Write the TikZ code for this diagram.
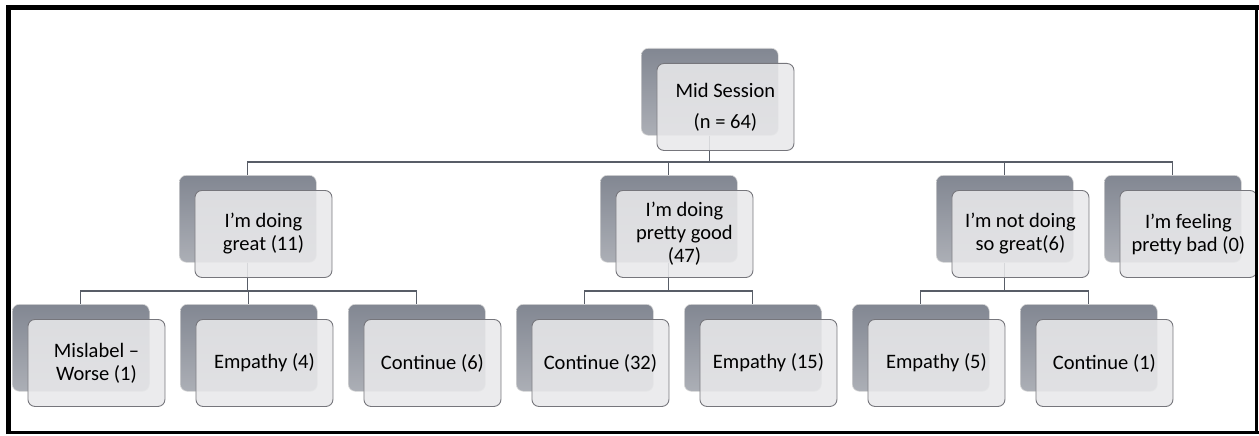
\documentclass[tikz,border=0pt]{standalone}
\usepackage{fontspec}
\setmainfont{Carlito}
\definecolor{boxtop}{RGB}{130,135,146}
\definecolor{boxbot}{RGB}{172,175,182}
\definecolor{frontfill}{RGB}{232,232,234}
\definecolor{edgegray}{RGB}{118,118,124}
\definecolor{linkgray}{RGB}{88,93,103}
\begin{document}
\begin{tikzpicture}[x=1pt,y=-1pt,
  backbox/.style={draw=white!70!gray, line width=0.6pt, rounded corners=7pt,
    top color=boxtop, bottom color=boxbot,
    minimum width=137pt, minimum height=87pt, inner sep=0pt, anchor=north west},
  frontbox/.style={draw=edgegray, line width=0.9pt, rounded corners=7pt,
    fill=frontfill, fill opacity=0.88, text opacity=1,
    minimum width=137pt, minimum height=87pt, inner sep=0pt, anchor=north west,
    align=center, font=\fontsize{20.5}{23}\selectfont},
  link/.style={draw=linkgray, line width=1.3pt}]
\useasboundingbox (0,0) rectangle (1259,436);

% shaded back cards
\node[backbox] (midB)   at (641,48)  {};
\node[backbox] (greatB) at (179,175) {};
\node[backbox] (goodB)  at (600,175) {};
\node[backbox] (notB)   at (936,175) {};
\node[backbox] (badB)   at (1104,175) {};
\node[backbox] (misB)   at (12,304)  {};
\node[backbox] (empAB)  at (180,304) {};
\node[backbox] (conAB)  at (348,304) {};
\node[backbox] (conBB)  at (516,304) {};
\node[backbox] (empBB)  at (684,304) {};
\node[backbox] (empCB)  at (852,304) {};
\node[backbox] (conCB)  at (1020,304) {};

% bus levels for the elbow connectors
\coordinate (busA) at (0,162);
\coordinate (busB) at (0,291);

\draw[link] (midB.south) -- (midB.south |- busA) -| (greatB.north);
\draw[link] (midB.south) -- (midB.south |- busA) -| (goodB.north);
\draw[link] (midB.south) -- (midB.south |- busA) -| (notB.north);
\draw[link] (midB.south) -- (midB.south |- busA) -| (badB.north);

\draw[link] (greatB.south) -- (greatB.south |- busB) -| (misB.north);
\draw[link] (greatB.south) -- (greatB.south |- busB) -| (empAB.north);
\draw[link] (greatB.south) -- (greatB.south |- busB) -| (conAB.north);

\draw[link] (goodB.south) -- (goodB.south |- busB) -| (conBB.north);
\draw[link] (goodB.south) -- (goodB.south |- busB) -| (empBB.north);

\draw[link] (notB.south) -- (notB.south |- busB) -| (empCB.north);
\draw[link] (notB.south) -- (notB.south |- busB) -| (conCB.north);

% translucent front cards with the labels
\node[frontbox] (mid)   at (656.5,63)  {Mid Session\\[8pt](n = 64)};
\node[frontbox] (great) at (194.5,190) {I’m doing\\great (11)};
\node[frontbox] (good)  at (615.5,190) {I’m doing\\pretty good\\(47)};
\node[frontbox] (notg)  at (951.5,190) {I’m not doing\\so great(6)};
\node[frontbox] (bad)   at (1119.5,190) {I’m feeling\\pretty bad (0)};
\node[frontbox] (mis)   at (27.5,319)  {Mislabel –\\Worse (1)};
\node[frontbox] (empA)  at (195.5,319) {Empathy (4)};
\node[frontbox] (conA)  at (363.5,319) {Continue (6)};
\node[frontbox] (conB)  at (531.5,319) {Continue (32)};
\node[frontbox] (empB)  at (699.5,319) {Empathy (15)};
\node[frontbox] (empC)  at (867.5,319) {Empathy (5)};
\node[frontbox] (conC)  at (1035.5,319) {Continue (1)};

% frame
\draw[line width=3pt] (8.5,432.5) -- (1259,432.5);
\draw[line width=3pt] (1256.5,7.5) -- (1256.5,434);
\draw[line width=5pt] (8.5,434) -- (8.5,7.5) -- (1259,7.5);
\end{tikzpicture}
\end{document}
